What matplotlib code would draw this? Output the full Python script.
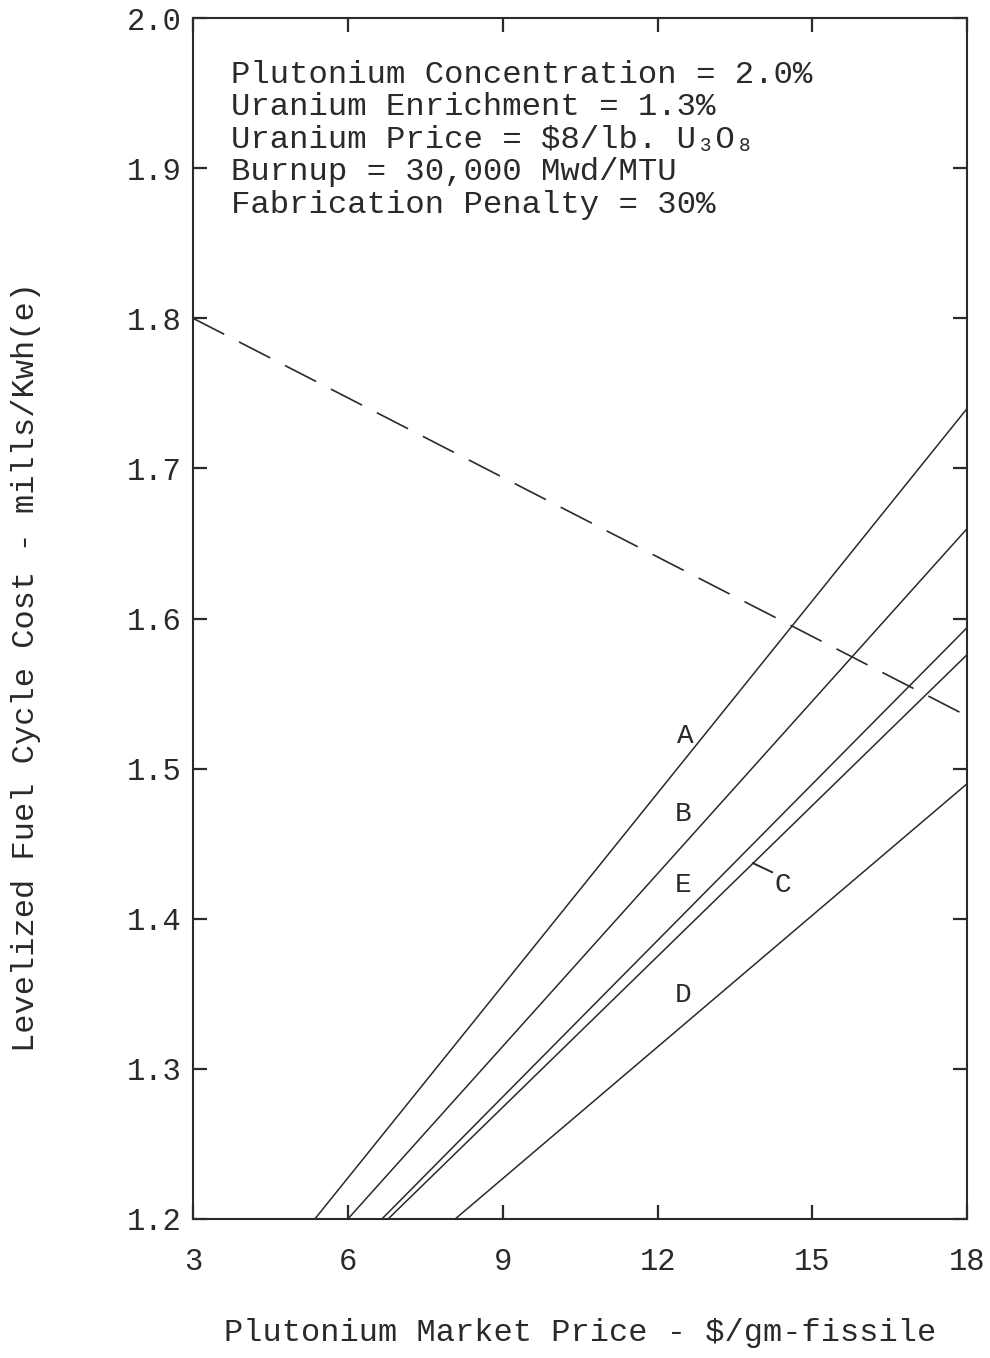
import numpy as np
import matplotlib.pyplot as plt

plt.rcParams['font.family'] = ['Liberation Mono', 'DejaVu Sans Mono']

# line end points: (x at 1.2, x at right edge) and y at right edge
curve_names = ["A", "B", "E", "C", "D"]
x_start = [5.36, 6.00, 6.66, 6.78, 8.08]
y_end = [1.740, 1.660, 1.594, 1.576, 1.490]
x_end = 18.0
y_floor = 1.2

# dashed reference line
dash_x = [3.0, 18.0]
dash_y = [1.800, 1.535]

label_pos = {"A": (12.53, 1.522), "B": (12.49, 1.470), "E": (12.49, 1.4225),
             "C": (14.43, 1.4225), "D": (12.49, 1.349)}
c_leader = ([13.85, 14.22], [1.437, 1.431])

info_lines = ["Plutonium Concentration = 2.0%",
              "Uranium Enrichment = 1.3%",
              "Uranium Price = $8/lb. U\u2083O\u2088",
              "Burnup = 30,000 Mwd/MTU",
              "Fabrication Penalty = 30%"]

x_ticks = [3, 6, 9, 12, 15, 18]
y_ticks = [1.2, 1.3, 1.4, 1.5, 1.6, 1.7, 1.8, 1.9, 2.0]

fig = plt.figure(figsize=(9.9, 13.58), dpi=100)
ax = fig.add_axes([0.195, 0.1024, 0.782, 0.8843])

ink = "#2a2a2a"
for name, xs, ye in zip(curve_names, x_start, y_end):
    ax.plot([xs, x_end], [y_floor, ye], color=ink, lw=1.1)

ax.plot(dash_x, dash_y, color=ink, lw=1.2, dashes=(21, 10))
ax.plot(*c_leader, color=ink, lw=1.4)

for name, (lx, ly) in label_pos.items():
    ax.text(lx, ly, name, fontsize=20, color=ink, ha="center", va="center")

line_y = [0.9525, 0.9259, 0.8984, 0.8718, 0.8443]
for txt, yy in zip(info_lines, line_y):
    ax.text(0.049, yy, txt, transform=ax.transAxes, fontsize=23.3, color=ink,
            ha="left", va="center")

ax.set_xlim(3, 18)
ax.set_ylim(1.2, 2.0)
ax.set_xticks(x_ticks)
ax.set_xticklabels([str(v) for v in x_ticks])
ax.set_yticks(y_ticks)
ax.set_yticklabels([f"{v:.1f}" for v in y_ticks])
ax.tick_params(direction="in", length=10, width=1.6, colors=ink,
               labelsize=22, top=True, right=True)
ax.tick_params(axis="x", pad=20)
ax.tick_params(axis="y", pad=8)
for s in ax.spines.values():
    s.set_linewidth(1.5)
    s.set_color(ink)

ax.set_xlabel("Plutonium Market Price - $/gm-fissile", fontsize=23, color=ink, labelpad=30)
ax.set_ylabel("Levelized Fuel Cycle Cost - mills/Kwh(e)", fontsize=23, color=ink)
ax.yaxis.set_label_coords(-0.197, 0.46)

fig.savefig("out.png", dpi=100)
